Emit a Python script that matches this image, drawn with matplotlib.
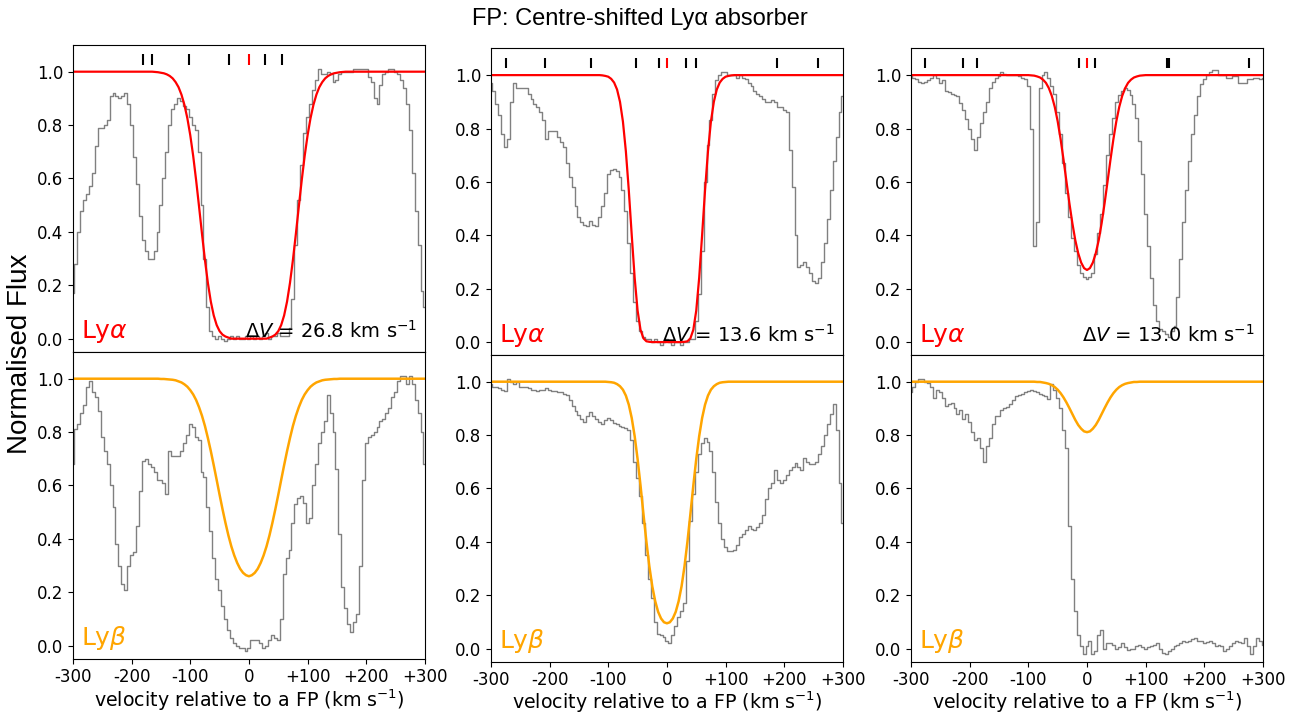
import numpy as np
import matplotlib
matplotlib.use('Agg')
import matplotlib.pyplot as plt

# ---------------- data ----------------
velocity = np.arange(-300, 301, 5)  # km/s, spectrum bin centres

# column 1
c1_lya_flux = [
    0.17, 0.28, 0.40, 0.48, 0.52, 0.54, 0.57, 0.62, 0.72, 0.79,
    0.79, 0.80, 0.82, 0.91, 0.92, 0.91, 0.90, 0.91, 0.92, 0.88,
    0.80, 0.68, 0.58, 0.46, 0.37, 0.33, 0.30, 0.30, 0.33, 0.40,
    0.50, 0.60, 0.70, 0.80, 0.86, 0.88, 0.90, 0.89, 0.87, 0.86,
    0.83, 0.80, 0.78, 0.70, 0.50, 0.30, 0.12, 0.03, 0.01, 0.00,
    0.01, 0.00, -0.01, 0.00, 0.01, 0.00, 0.01, 0.00, 0.00, 0.01,
    0.00, 0.01, 0.00, 0.01, 0.00, 0.01, 0.02, 0.00, 0.01, 0.01,
    0.02, 0.01, 0.01, 0.01, 0.04, 0.15, 0.35, 0.52, 0.65, 0.77,
    0.83, 0.88, 0.93, 0.97, 1.01, 0.99, 0.99, 1.00, 0.99, 0.96,
    0.97, 0.99, 1.00, 1.00, 1.00, 1.00, 1.01, 1.01, 1.01, 1.01,
    1.01, 0.98, 0.96, 0.90, 0.88, 0.95, 0.99, 1.00, 1.01, 1.01,
    1.00, 0.99, 0.97, 0.94, 0.88, 0.78, 0.62, 0.48, 0.35, 0.18,
    0.12]
c1_lyb_flux = [
    0.68, 0.81, 0.83, 0.87, 0.90, 0.97, 0.99, 0.95, 0.93, 0.88,
    0.78, 0.73, 0.68, 0.60, 0.52, 0.38, 0.30, 0.23, 0.21, 0.30,
    0.34, 0.35, 0.45, 0.58, 0.69, 0.70, 0.68, 0.67, 0.65, 0.62,
    0.62, 0.61, 0.57, 0.73, 0.71, 0.71, 0.71, 0.73, 0.76, 0.79,
    0.83, 0.82, 0.78, 0.77, 0.65, 0.63, 0.52, 0.43, 0.33, 0.25,
    0.21, 0.15, 0.10, 0.06, 0.03, 0.01, 0.00, -0.01, -0.01, -0.02,
    -0.01, 0.02, 0.02, 0.02, 0.01, -0.01, 0.00, 0.02, 0.04, 0.03,
    0.02, 0.10, 0.27, 0.33, 0.36, 0.46, 0.53, 0.555, 0.56, 0.535,
    0.46, 0.48, 0.60, 0.68, 0.76, 0.80, 0.84, 0.94, 0.87, 0.80,
    0.66, 0.42, 0.22, 0.14, 0.08, 0.05, 0.09, 0.12, 0.30, 0.62,
    0.76, 0.78, 0.79, 0.80, 0.82, 0.84, 0.85, 0.87, 0.89, 0.93,
    0.95, 0.99, 1.01, 1.01, 0.98, 1.01, 0.98, 0.92, 0.87, 0.80,
    0.68]
c1_lya_model = [1.0] * 28 + [
    0.999, 0.998, 0.996, 0.994, 0.990, 0.984, 0.975, 0.961, 0.942, 0.914,
    0.876, 0.826, 0.762, 0.684, 0.593, 0.494, 0.392, 0.295, 0.209, 0.139,
    0.087, 0.051, 0.028, 0.015, 0.008, 0.004, 0.0, 0.0, 0.0, 0.0,
    0.0, 0.0,
    0.0,
    0.0, 0.0,
    0.0, 0.0, 0.0, 0.0, 0.004, 0.008, 0.015, 0.028, 0.051, 0.087,
    0.139, 0.209, 0.295, 0.392, 0.494, 0.593, 0.684, 0.762, 0.826, 0.876,
    0.914, 0.942, 0.961, 0.975, 0.984, 0.990, 0.994, 0.996, 0.998, 0.999,
] + [1.0] * 28
c1_lyb_model = [1.0] * 30 + [
    0.999, 0.999, 0.998, 0.997, 0.996, 0.994, 0.990, 0.986, 0.979, 0.970,
    0.957, 0.941, 0.920, 0.893, 0.861, 0.823, 0.778, 0.729, 0.676, 0.621,
    0.565, 0.511, 0.460, 0.413, 0.372, 0.338, 0.310, 0.288, 0.273, 0.264,
    0.260,
    0.264, 0.273, 0.288, 0.310, 0.338, 0.372, 0.413, 0.460, 0.511, 0.565,
    0.621, 0.676, 0.729, 0.778, 0.823, 0.861, 0.893, 0.920, 0.941, 0.957,
    0.970, 0.979, 0.986, 0.990, 0.994, 0.996, 0.997, 0.998, 0.999, 0.999,
] + [1.0] * 30

# column 2
c2_lya_flux = [
    0.97, 0.94, 0.89, 0.85, 0.78, 0.73, 0.76, 0.90, 0.97, 0.95,
    0.95, 0.95, 0.95, 0.93, 0.91, 0.89, 0.88, 0.86, 0.83, 0.76,
    0.79, 0.79, 0.79, 0.77, 0.75, 0.73, 0.67, 0.62, 0.58, 0.51,
    0.47, 0.45, 0.44, 0.435, 0.455, 0.44, 0.435, 0.47, 0.51, 0.56,
    0.63, 0.645, 0.65, 0.64, 0.62, 0.57, 0.49, 0.37, 0.26, 0.15,
    0.08, 0.04, 0.02, 0.01, 0.01, 0.00, 0.01, 0.00, -0.01, 0.00,
    0.01, 0.00, -0.01, 0.00, 0.00, -0.01, 0.00, 0.00, 0.01, 0.01,
    0.08, 0.18, 0.34, 0.60, 0.74, 0.83, 0.93, 0.98, 1.00, 1.01,
    1.01, 1.00, 1.00, 1.00, 0.99, 1.00, 0.99, 0.985, 0.97, 0.96,
    0.94, 0.93, 0.92, 0.91, 0.90, 0.90, 0.905, 0.90, 0.88, 0.88,
    0.87, 0.86, 0.72, 0.58, 0.40, 0.28, 0.29, 0.30, 0.28, 0.26,
    0.23, 0.22, 0.24, 0.30, 0.37, 0.46, 0.57, 0.68, 0.77, 0.86,
    0.92]
c2_lyb_flux = [
    0.99, 0.98, 0.98, 0.975, 0.97, 0.965, 1.01, 1.00, 0.99, 1.00,
    0.98, 0.98, 0.98, 0.975, 0.97, 0.97, 0.965, 0.97, 0.97, 0.975,
    0.97, 0.965, 0.965, 0.96, 0.96, 0.955, 0.95, 0.93, 0.91, 0.89,
    0.875, 0.86, 0.85, 0.87, 0.885, 0.87, 0.86, 0.85, 0.84, 0.855,
    0.865, 0.855, 0.845, 0.84, 0.835, 0.83, 0.825, 0.82, 0.78, 0.70,
    0.64, 0.57, 0.47, 0.35, 0.26, 0.19, 0.10, 0.055, 0.05, 0.045,
    0.03, 0.02, 0.05, 0.085, 0.12, 0.14, 0.17, 0.33, 0.48, 0.58,
    0.66, 0.73, 0.77, 0.79, 0.775, 0.74, 0.66, 0.55, 0.47, 0.41,
    0.38, 0.365, 0.365, 0.37, 0.39, 0.42, 0.43, 0.445, 0.46, 0.45,
    0.445, 0.455, 0.47, 0.50, 0.56, 0.60, 0.62, 0.67, 0.63, 0.62,
    0.63, 0.65, 0.67, 0.68, 0.695, 0.68, 0.67, 0.715, 0.70, 0.69,
    0.69, 0.70, 0.73, 0.76, 0.80, 0.84, 0.88, 0.915, 0.82, 0.62,
    0.47]
c2_lya_model = [1.0] * 38 + [
    0.999, 0.997, 0.994, 0.986, 0.972, 0.946, 0.900, 0.826, 0.715, 0.569,
    0.401, 0.241, 0.118, 0.046, 0.014, 0.003, 0.001, 0.0, 0.0, 0.0,
    0.0, 0.0,
    0.0,
    0.0, 0.0,
    0.0, 0.0, 0.0, 0.001, 0.003, 0.014, 0.046, 0.118, 0.241, 0.401,
    0.569, 0.715, 0.826, 0.900, 0.946, 0.972, 0.986, 0.994, 0.997, 0.999,
] + [1.0] * 38
c2_lyb_model = [1.0] * 40 + [
    0.999, 0.998, 0.996, 0.991, 0.983, 0.970, 0.948, 0.914, 0.864, 0.796,
    0.710, 0.611, 0.504, 0.401, 0.309, 0.234, 0.178, 0.138, 0.113, 0.099,
    0.095,
    0.099, 0.113, 0.138, 0.178, 0.234, 0.309, 0.401, 0.504, 0.611, 0.710,
    0.796, 0.864, 0.914, 0.948, 0.970, 0.983, 0.991, 0.996, 0.998, 0.999,
] + [1.0] * 40

# column 3
c3_lya_flux = [
    1.00, 0.99, 0.985, 0.975, 0.97, 0.975, 0.98, 0.99, 1.00, 0.99,
    0.97, 0.98, 0.94, 0.935, 0.93, 0.925, 0.92, 0.895, 0.87, 0.835,
    0.80, 0.76, 0.72, 0.77, 0.82, 0.86, 0.90, 0.95, 0.975, 0.99,
    0.995, 1.01, 1.005, 1.00, 1.00, 1.00, 1.00, 0.995, 0.99, 0.985,
    0.96, 0.80, 0.36, 0.45, 0.95, 1.00, 1.01, 0.99, 0.96, 0.93,
    0.86, 0.78, 0.67, 0.56, 0.47, 0.39, 0.34, 0.29, 0.26, 0.245,
    0.237, 0.245, 0.26, 0.33, 0.41, 0.48, 0.59, 0.70, 0.78, 0.84,
    0.90, 0.925, 0.94, 0.95, 0.945, 0.925, 0.89, 0.84, 0.755, 0.63,
    0.48, 0.36, 0.24, 0.14, 0.08, 0.05, 0.04, 0.03, 0.02, 0.04,
    0.06, 0.17, 0.31, 0.45, 0.57, 0.68, 0.78, 0.85, 0.92, 0.965,
    0.985, 1.00, 1.01, 1.02, 1.02, 1.00, 1.00, 1.00, 0.99, 0.99,
    0.995, 0.995, 0.97, 0.97, 0.97, 0.985, 0.985, 0.99, 0.99, 0.985,
    0.99]
c3_lyb_flux = [
    0.96, 0.98, 1.00, 1.01, 1.01, 1.00, 0.995, 0.98, 0.94, 0.97,
    0.96, 0.94, 0.91, 0.915, 0.92, 0.90, 0.88, 0.895, 0.86, 0.88,
    0.85, 0.81, 0.78, 0.79, 0.75, 0.70, 0.76, 0.79, 0.84, 0.87,
    0.87, 0.895, 0.90, 0.905, 0.915, 0.93, 0.945, 0.95, 0.955, 0.96,
    0.965, 0.97, 0.965, 0.96, 0.955, 0.95, 0.945, 0.935, 0.99, 0.97,
    0.94, 0.90, 0.82, 0.75, 0.46, 0.26, 0.14, 0.05, 0.01, -0.02,
    0.01, 0.03, -0.02, -0.01, 0.05, 0.07, 0.00, 0.02, 0.02, 0.015,
    0.00, 0.005, 0.02, 0.005, -0.005, 0.00, 0.00, 0.01, 0.015, 0.005,
    0.00, 0.005, 0.01, 0.015, 0.02, 0.00, -0.015, -0.02, -0.01, 0.00,
    0.01, 0.015, 0.02, 0.03, 0.025, 0.03, 0.035, 0.04, 0.03, 0.03,
    0.02, 0.025, 0.03, 0.02, 0.01, 0.015, 0.01, -0.01, 0.00, 0.01,
    0.02, 0.03, 0.025, 0.02, 0.04, 0.01, -0.02, 0.01, 0.04, 0.03,
    0.015]
c3_lya_model = [1.0] * 41 + [
    0.999, 0.998, 0.995, 0.991, 0.983, 0.971, 0.951, 0.922, 0.881, 0.827,
    0.760, 0.683, 0.601, 0.520, 0.446, 0.382, 0.333, 0.298, 0.277,
    0.270,
    0.277, 0.298, 0.333, 0.382, 0.446, 0.520, 0.601, 0.683, 0.760,
    0.827, 0.881, 0.922, 0.951, 0.971, 0.983, 0.991, 0.995, 0.998, 0.999,
] + [1.0] * 41
c3_lyb_model = [1.0] * 43 + [
    0.999, 0.999, 0.997, 0.995, 0.992, 0.987, 0.980, 0.970, 0.957, 0.941,
    0.922, 0.901, 0.879, 0.857, 0.838, 0.824, 0.814,
    0.811,
    0.814, 0.824, 0.838, 0.857, 0.879, 0.901, 0.922, 0.941, 0.957,
    0.970, 0.980, 0.987, 0.992, 0.995, 0.997, 0.999, 0.999,
] + [1.0] * 43

# absorber component positions (km/s) marked at the top
c1_components = [-181, -165, -102, -34, 27, 56]
c2_components = [-274, -207, -129, -52, -13, 32, 50, 187, 257]
c3_components = [-276, -211, -187, -14, 14, 136, 139, 277]
fp_component = 0.0

delta_v_labels = [r'$\Delta V$ = 26.8 km s$^{-1}$',
                  r'$\Delta V$ = 13.6 km s$^{-1}$',
                  r'$\Delta V$ = 13.0 km s$^{-1}$']
xtick_values = [-300, -200, -100, 0, 100, 200, 300]
xtick_labels = ['-300', '-200', '-100', '0', '+100', '+200', '+300']
ytick_values = [0.0, 0.2, 0.4, 0.6, 0.8, 1.0]

columns = [
    (c1_lya_flux, c1_lya_model, c1_lyb_flux, c1_lyb_model, c1_components),
    (c2_lya_flux, c2_lya_model, c2_lyb_flux, c2_lyb_model, c2_components),
    (c3_lya_flux, c3_lya_model, c3_lyb_flux, c3_lyb_model, c3_components),
]

# ---------------- layout ----------------
fig = plt.figure(figsize=(13.05, 7.13), dpi=100)
col_left = [0.0559, 0.3762, 0.6981]
top_bottom = [0.5063, 0.5015, 0.5015]
bot_bottom = [0.0757, 0.0715, 0.0715]
label_pads = [1.0, 0.0, 0.0]
W, H = 0.2697, 0.4306

tick_fs = 12
for i, (lya_f, lya_m, lyb_f, lyb_m, comps) in enumerate(columns):
    ax_a = fig.add_axes([col_left[i], top_bottom[i], W, H])
    ax_b = fig.add_axes([col_left[i], bot_bottom[i], W, H])

    ax_a.plot(velocity, lya_f, drawstyle='steps-mid', color='grey', lw=1.0)
    ax_a.plot(velocity, lya_m, color='red', lw=1.6)
    ax_a.vlines(comps, 1.025, 1.065, color='black', lw=1.5)
    ax_a.vlines([fp_component], 1.025, 1.065, color='red', lw=1.5)
    ax_a.text(0.023, 0.045, r'Ly$\alpha$', transform=ax_a.transAxes,
              color='red', fontsize=18, ha='left', va='baseline')
    ax_a.text(0.977, 0.045, delta_v_labels[i], transform=ax_a.transAxes,
              color='black', fontsize=14, ha='right', va='baseline')

    ax_b.plot(velocity, lyb_f, drawstyle='steps-mid', color='grey', lw=1.0)
    ax_b.plot(velocity, lyb_m, color='orange', lw=1.8)
    ax_b.text(0.023, 0.045, r'Ly$\beta$', transform=ax_b.transAxes,
              color='orange', fontsize=18, ha='left', va='baseline')

    for ax in (ax_a, ax_b):
        ax.set_xlim(-300, 300)
        ax.set_ylim(-0.05, 1.1)
        ax.set_yticks(ytick_values)
        ax.tick_params(axis='y', labelsize=tick_fs)
    ax_a.set_xticks(xtick_values)
    ax_a.tick_params(axis='x', bottom=False, labelbottom=False)
    ax_b.set_xticks(xtick_values)
    ax_b.set_xticklabels(xtick_labels)
    ax_b.tick_params(axis='x', labelsize=tick_fs, pad=3)
    ax_b.set_xlabel(r'velocity relative to a FP (km s$^{-1}$)', fontsize=13.7,
                    labelpad=label_pads[i])

fig.text(0.4904, 1 - 25 / 713, u'FP: Centre-shifted Ly\u03b1 absorber',
         ha='center', va='baseline', fontsize=17, family='Liberation Sans')
fig.text(20 / 1305, 359 / 713, 'Normalised Flux', rotation=90,
         ha='center', va='center', fontsize=20, family='Liberation Sans')

fig.savefig('out.png', dpi=100)
